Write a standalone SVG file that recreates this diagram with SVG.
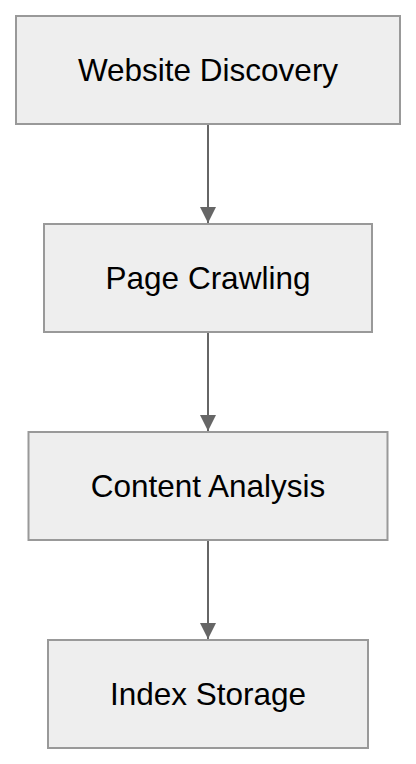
<svg xmlns="http://www.w3.org/2000/svg" width="416" height="764" viewBox="0 0 416 764">
<defs>
<style>
.box{fill:#eeeeee;stroke:#999999;stroke-width:2}
.lbl{font-family:"Liberation Sans",Arial,sans-serif;font-size:31.5px;fill:#000;text-anchor:middle}
.edge{stroke:#666666;stroke-width:2;fill:none}
</style>
<marker id="arr" viewBox="0 0 16 16" markerWidth="16" markerHeight="16" refX="16" refY="8" orient="auto" markerUnits="userSpaceOnUse">
<path d="M0,0 L16,8 L0,16 Z" fill="#666666"/>
</marker>
</defs>
<rect width="416" height="764" fill="#ffffff"/>
<g id="connectors">
<line class="edge" x1="208" y1="124" x2="208" y2="223" marker-end="url(#arr)"/>
<line class="edge" x1="208" y1="332" x2="208" y2="431" marker-end="url(#arr)"/>
<line class="edge" x1="208" y1="540" x2="208" y2="639" marker-end="url(#arr)"/>
</g>
<g id="node-website-discovery">
<rect class="box" x="16" y="16" width="384" height="108"/>
<text class="lbl" x="208" y="80.5">Website Discovery</text>
</g>
<g id="node-page-crawling">
<rect class="box" x="44" y="224" width="328" height="108"/>
<text class="lbl" x="208" y="288.5">Page Crawling</text>
</g>
<g id="node-content-analysis">
<rect class="box" x="28.5" y="432" width="359" height="108"/>
<text class="lbl" x="208" y="496.5">Content Analysis</text>
</g>
<g id="node-index-storage">
<rect class="box" x="48" y="640" width="320" height="108"/>
<text class="lbl" x="208" y="704.5">Index Storage</text>
</g>
</svg>
